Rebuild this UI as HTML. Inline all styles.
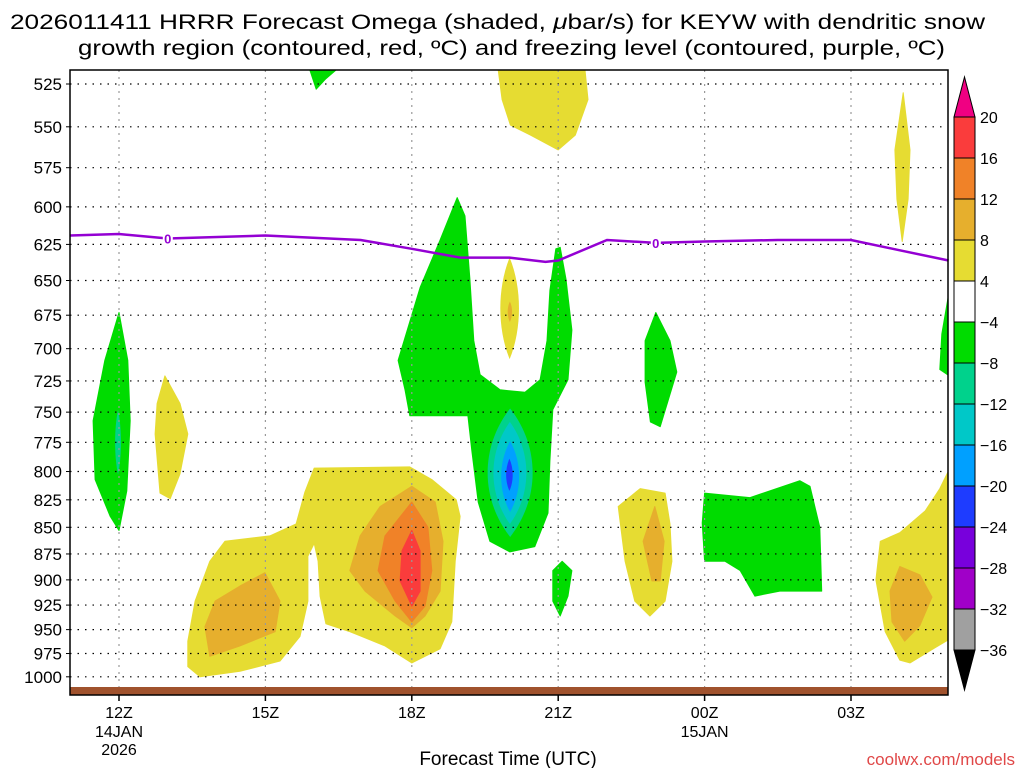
<!DOCTYPE html>
<html><head><meta charset="utf-8"><style>
html,body{margin:0;padding:0;background:#fff;}
svg{display:block;font-family:"Liberation Sans",sans-serif;}
</style></head><body>
<svg id="chart" width="1024" height="768" viewBox="0 0 1024 768" xmlns="http://www.w3.org/2000/svg">
<text x="10" y="29" font-size="21" textLength="975" lengthAdjust="spacingAndGlyphs">2026011411 HRRR Forecast Omega (shaded, <tspan font-style="italic">μ</tspan>bar/s) for KEYW with dendritic snow</text>
<text x="78" y="55" font-size="21" textLength="867" lengthAdjust="spacingAndGlyphs">growth region (contoured, red, ºC) and freezing level (contoured, purple, ºC)</text>
<g id="fills"></g>
<g id="grid"></g>
<g id="fz"></g>
<rect x="70" y="687" width="878" height="8" fill="#a0522d"/>
<rect x="70" y="70" width="878" height="625" fill="none" stroke="#000" stroke-width="1.5"/>
<g id="axes"></g>
<g id="cbar"></g>
<text x="508" y="765" font-size="19" text-anchor="middle">Forecast Time (UTC)</text>
<text x="1015" y="765" font-size="17" text-anchor="end" fill="#e04848">coolwx.com/models</text>
</svg>
<script>
// ---- data ----
const yTicks = [525,550,575,600,625,650,675,700,725,750,775,800,825,850,875,900,925,950,975,1000];
const xTickHours = [0,3,6,9,12,15];
const xTickLabels = ["12Z","15Z","18Z","21Z","00Z","03Z"];
const cbarLevels = ["20","16","12","8","4","−4","−8","−12","−16","−20","−24","−28","−32","−36"];
const cbarColors = ["#fa3c3c","#f08228","#e6af2d","#e6dc32","#ffffff","#00dc00","#00d28c","#00c8c8","#00a0ff","#1e3cff","#7800dc","#a000c8","#a0a0a0"];
const fzHours = [-1,0,1,3,4.95,6,6.99,8,8.74,9,10,11,12,13.5,15,16,17];
const fzPressure = [619,618,621,619,622,628,634,634,637,636,622,624,623,622,622,629,636];
const fzLabelHours = [1,11];
const greenTop = [[3.91,517],[4.45,517],[4.24,522],[4.04,528]];
const yellowTop = [[7.77,517],[9.55,517],[9.61,534],[9.35,555],[9.0,564],[8.43,555],[8.02,549],[7.85,534]];
const yellowSliver = [[16.07,530],[16.21,564],[16.17,595],[16.05,623],[15.94,595],[15.9,564]];
const greenCenter = [[5.72,709],[6.17,655],[6.58,622],[6.93,594],[7.09,606],[7.19,649],[7.27,694],[7.40,720],[7.81,732],[8.32,734],[8.63,724],[8.77,694],[8.83,657],[8.95,628],[9.04,627],[9.16,649],[9.28,686],[9.20,724],[8.89,748],[8.83,791],[8.79,837],[8.52,868],[8.01,873],[7.60,863],[7.36,827],[7.23,782],[7.15,753],[5.96,753],[5.86,732]];
const yellowMain = [[1.41,962],[1.56,921],[1.86,882],[2.17,863],[3.09,858],[3.63,847],[3.81,818],[4.0,797],[5.96,796],[6.41,807],[6.91,825],[6.99,840],[6.89,882],[6.82,942],[6.58,970],[6.0,985],[5.45,967],[4.73,952],[4.24,944],[4.12,916],[4.08,882],[4.0,865],[3.87,877],[3.87,921],[3.71,957],[3.30,983],[2.48,994],[1.66,1000],[1.41,989]];
const gold18 = [[6.0,813],[6.48,827],[6.64,863],[6.58,911],[6.27,936],[6.0,948],[5.66,936],[5.04,911],[4.73,891],[4.94,858],[5.35,831]];
const orange18 = [[6.0,827],[6.33,850],[6.41,891],[6.27,926],[6.0,942],[5.66,921],[5.31,891],[5.45,858]];
const red18 = [[6.0,853],[6.17,872],[6.17,911],[6.0,926],[5.76,901],[5.80,872]];
const gold15 = [[2.99,893],[3.30,921],[3.20,952],[2.48,967],[1.86,978],[1.76,947],[1.97,921],[2.48,906]];
const green12 = [[0,673],[0.18,709],[0.23,757],[0.16,817],[0,853],[-0.18,840],[-0.49,807],[-0.53,757],[-0.29,709]];
const yellow13 = [[0.94,721],[1.25,743],[1.41,768],[1.25,802],[1.05,824],[0.84,819],[0.74,768],[0.78,743]];
const green21 = [[9.08,882],[9.28,891],[9.2,916],[9.04,936],[8.89,921],[8.89,891]];
const green23 = [[11.0,673],[11.29,694],[11.43,718],[11.25,741],[11.09,762],[10.89,758],[10.78,726],[10.78,694]];
const yellow23 = [[10.68,815],[11.19,819],[11.29,847],[11.33,882],[11.19,921],[10.88,936],[10.57,921],[10.37,882],[10.23,831]];
const gold23 = [[10.98,831],[11.17,863],[11.09,901],[10.92,901],[10.74,863]];
const green01 = [[12.0,819],[12.93,823],[13.95,808],[14.16,813],[14.36,850],[14.4,911],[13.54,911],[13.03,916],[12.73,891],[12.42,882],[12.0,882],[11.95,846]];
const yellowRight = [[17.05,795],[17.05,959],[16.72,969],[16.21,985],[16.0,982],[15.7,952],[15.51,900],[15.6,863],[16.0,855],[16.52,835],[16.82,815]];
const goldRight = [[16.0,887],[16.41,895],[16.66,917],[16.41,946],[16.1,962],[15.84,942],[15.8,911]];
const greenRight = [[17.05,650],[17.05,722],[16.82,716],[16.86,689]];
// lenses: [hLeft, hRight, pTop, pBottom]
const yellowLens20 = [7.75,8.26,634,708];
const goldLens20 = [7.95,8.07,665,680];
const tealLens12 = [-0.1,0.06,748,803];
const tealLens20 = [7.40,8.63,747,859];
const cyanLens20 = [7.56,8.46,758,847];
const blueLens20 = [7.77,8.26,774,836];
const deepBlueLens20 = [7.91,8.09,789,817];

// ---- axes ----
const X0=70,X1=948,Y0=70,Y1=695;
function xs(h){return 119+48.8*h;}
function ys(p){return 84+920*Math.log(p/525);}
const NS="http://www.w3.org/2000/svg";
function mk(tag,attrs,parent){const e=document.createElementNS(NS,tag);for(const k in attrs)e.setAttribute(k,attrs[k]);parent.appendChild(e);return e;}
const fills=document.getElementById('fills');
const clip=mk('clipPath',{id:'pc'},document.getElementById('chart'));
mk('rect',{x:X0,y:Y0,width:X1-X0,height:Y1-Y0},clip);
fills.setAttribute('clip-path','url(#pc)');
function poly(pts,color,name){
  const d=pts.map(q=>xs(q[0]).toFixed(1)+','+ys(q[1]).toFixed(1)).join(' ');
  const e=mk('polygon',{points:d,fill:color,'stroke':color,'stroke-width':1,'stroke-linejoin':'round'},fills);
  
  
}
function lens(L,color,name){
  const xl=xs(L[0]),xr=xs(L[1]),yt=ys(L[2]),yb=ys(L[3]);
  const cx=(xl+xr)/2,cy=(yt+yb)/2,h=(yb-yt);
  const d=`M${cx},${yt} C${xr},${yt+h*0.3} ${xr},${yb-h*0.3} ${cx},${yb} C${xl},${yb-h*0.3} ${xl},${yt+h*0.3} ${cx},${yt}Z`;
  const e=mk('path',{d:d,fill:color},fills);
  
  
}
const Y="#e6dc32",G="#e6af2d",O="#f08228",R="#fa3c3c",GR="#00dc00",TE="#00d28c",CY="#00c8c8",BL="#00a0ff",DB="#1e3cff";
poly(yellowTop,Y,'omega-yellow-top');
poly(yellowSliver,Y,'omega-yellow-sliver');
poly(yellowMain,Y,'omega-yellow-main');
poly(gold15,G,'omega-gold-15z');
poly(gold18,G,'omega-gold-18z');
poly(orange18,O,'omega-orange-18z');
poly(red18,R,'omega-red-18z');
poly(yellow13,Y,'omega-yellow-13z');
poly(yellow23,Y,'omega-yellow-23z');
poly(gold23,G,'omega-gold-23z');
poly(yellowRight,Y,'omega-yellow-right');
poly(goldRight,G,'omega-gold-right');
poly(greenTop,GR,'omega-green-top');
poly(greenCenter,GR,'omega-green-center');
poly(green12,GR,'omega-green-12z');
poly(green21,GR,'omega-green-21z');
poly(green23,GR,'omega-green-23z');
poly(green01,GR,'omega-green-01z');
poly(greenRight,GR,'omega-green-right');
lens(yellowLens20,Y,'omega-yellow-20z');
lens(goldLens20,G,'omega-gold-20z');
lens(tealLens12,TE,'omega-teal-12z');
lens(tealLens20,TE,'omega-teal-20z');
lens(cyanLens20,CY,'omega-cyan-20z');
lens(blueLens20,BL,'omega-blue-20z');
lens(deepBlueLens20,DB,'omega-deepblue-20z');

// grid + axis labels
const grid=document.getElementById('grid'),axes=document.getElementById('axes');
yTicks.forEach(p=>{
  const y=ys(p);
  const l=mk('line',{x1:X0,x2:X1,y1:y,y2:y,stroke:'#000','stroke-width':1.2,'stroke-dasharray':'1.5 6'},grid);
  
  
  const t=mk('line',{x1:X0-4,x2:X0,y1:y,y2:y,stroke:'#000'},axes);
  
  
  const tx=mk('text',{x:62,y:y+6,'font-size':17,'text-anchor':'end'},axes);
  tx.textContent=p;
  
  
});
xTickHours.forEach((h,i)=>{
  const x=xs(h);
  const l=mk('line',{x1:x,x2:x,y1:Y0,y2:Y1,stroke:'#999','stroke-width':1.2,'stroke-dasharray':'2 5'},grid);
  
  
  const t=mk('line',{x1:x,x2:x,y1:Y1,y2:Y1+6,stroke:'#000','stroke-width':1.5},axes);
  
  
  const tx=mk('text',{x:x,y:718,'font-size':16,'text-anchor':'middle'},axes);
  tx.textContent=xTickLabels[i];
  
  
});
[[0,737,'14JAN'],[0,755,'2026'],[12,737,'15JAN']].forEach(a=>{
  const tx=mk('text',{x:xs(a[0]),y:a[1],'font-size':16,'text-anchor':'middle'},axes);
  tx.textContent=a[2];
  
  
});

// freezing level
const fz=document.getElementById('fz');
const fzl=mk('polyline',{points:fzHours.map((h,i)=>xs(h).toFixed(1)+','+ys(fzPressure[i]).toFixed(1)).join(' '),fill:'none',stroke:'#9400d3','stroke-width':2.5},fz);


fzLabelHours.forEach(h=>{
  let k=0;for(let i=0;i<fzHours.length-1;i++){if(h>=fzHours[i]&&h<=fzHours[i+1])k=i;}
  const f=(h-fzHours[k])/(fzHours[k+1]-fzHours[k]);
  const p=fzPressure[k]+f*(fzPressure[k+1]-fzPressure[k]);
  const x=xs(h),y=ys(p);
  mk('rect',{x:x-5,y:y-7,width:10,height:14,fill:'#fff'},fz);
  const t=mk('text',{x:x,y:y+5,'font-size':13,'font-weight':'bold','text-anchor':'middle',fill:'#9400d3'},fz);
  t.textContent='0';
  
  
});

// colorbar
const cb=document.getElementById('cbar');
const cx0=954,cw=21,cy0=117,step=41;
const up=mk('polygon',{points:`${cx0},${cy0} ${cx0+cw},${cy0} ${cx0+cw/2},${cy0-40}`,fill:'#f00082',stroke:'#000'},cb);


cbarColors.forEach((c,i)=>{
  const r=mk('rect',{x:cx0,y:cy0+i*step,width:cw,height:step,fill:c,stroke:'#000','stroke-width':1},cb);
  
  
});
const yb=cy0+cbarColors.length*step;
const dn=mk('polygon',{points:`${cx0},${yb} ${cx0+cw},${yb} ${cx0+cw/2},${yb+40}`,fill:'#000',stroke:'#000'},cb);


cbarLevels.forEach((s,i)=>{
  const t=mk('text',{x:980,y:cy0+i*step+6,'font-size':16},cb);
  t.textContent=s;
  
  
});
</script>
</body></html>
